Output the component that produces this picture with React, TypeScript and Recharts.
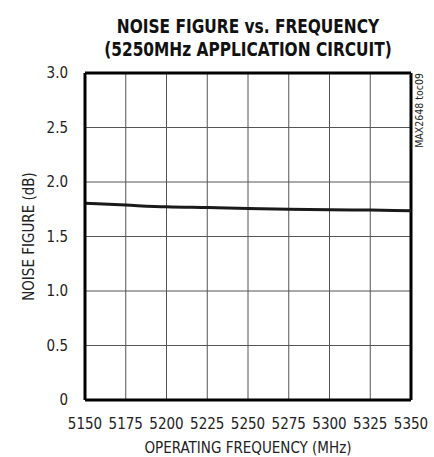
import React from 'react';
import {
  LineChart,
  Line,
  XAxis,
  YAxis,
  CartesianGrid,
  ReferenceLine,
  Label,
} from 'recharts';

// Noise figure, one point per grid column
const frequencies = [5150, 5175, 5200, 5225, 5250, 5275, 5300, 5325, 5350];
const noiseFigure = [1.805, 1.788, 1.772, 1.765, 1.757, 1.75, 1.746, 1.742, 1.737];
const xTicks = [5150, 5175, 5200, 5225, 5250, 5275, 5300, 5325, 5350];
const yTicks = [0, 0.5, 1, 1.5, 2, 2.5, 3];

const data = frequencies.map((f, i) => ({ freq: f, nf: noiseFigure[i] }));

const FONT = '"DejaVu Sans Condensed", "Liberation Sans", Arial, sans-serif';

export default function App() {
  return (
    <div style={{ position: 'absolute', left: 0, top: 0, width: 434, height: 457, background: '#fff', fontFamily: FONT }}>
      <div
        style={{
          position: 'absolute',
          left: 48,
          width: 400,
          top: 15,
          textAlign: 'center',
          fontWeight: 'bold',
          fontSize: 19,
          lineHeight: '23px',
          color: '#111',
          transform: 'scaleX(0.9)',
        }}
      >
        NOISE FIGURE vs. FREQUENCY
        <br />
        (5250MHz APPLICATION CIRCUIT)
      </div>
      <div
        style={{
          position: 'absolute',
          left: 413,
          top: 73,
          fontSize: 10.5,
          lineHeight: '12px',
          color: '#222',
          writingMode: 'vertical-rl',
          transform: 'rotate(180deg)',
          whiteSpace: 'nowrap',
        }}
      >
        MAX2648 toc09
      </div>
      <LineChart
        width={434}
        height={457}
        data={data}
        margin={{ top: 73, right: 23, left: 30, bottom: 27 }}
      >
        <CartesianGrid stroke="#555" strokeWidth={1} />
        <XAxis
          dataKey="freq"
          type="number"
          domain={[5150, 5350]}
          ticks={xTicks}
          interval={0}
          height={30}
          axisLine={{ stroke: '#000', strokeWidth: 3 }}
          tickLine={false}
          tick={{ fill: '#222', fontSize: 15, fontFamily: FONT }}
          tickMargin={12}
        >
          <Label
            value="OPERATING FREQUENCY (MHz)"
            position="insideBottom"
            offset={-23}
            style={{ fill: '#222', fontSize: 15, fontFamily: FONT }}
          />
        </XAxis>
        <YAxis
          type="number"
          domain={[0, 3]}
          ticks={yTicks}
          interval={0}
          width={55}
          axisLine={{ stroke: '#000', strokeWidth: 3 }}
          tickLine={false}
          tickFormatter={(v: number) => (v === 0 ? '0' : v.toFixed(1))}
          tick={{ fill: '#222', fontSize: 15, fontFamily: FONT }}
          tickMargin={11}
        >
          <Label
            value="NOISE FIGURE (dB)"
            angle={-90}
            position="insideLeft"
            offset={-1}
            style={{ fill: '#222', fontSize: 15, fontFamily: FONT, textAnchor: 'middle' }}
          />
        </YAxis>
        <ReferenceLine y={3} stroke="#000" strokeWidth={3} />
        <ReferenceLine x={5350} stroke="#000" strokeWidth={3} />
        <Line
          type="monotone"
          dataKey="nf"
          stroke="#1a1a1a"
          strokeWidth={3}
          dot={false}
          isAnimationActive={false}
        />
      </LineChart>
    </div>
  );
}
